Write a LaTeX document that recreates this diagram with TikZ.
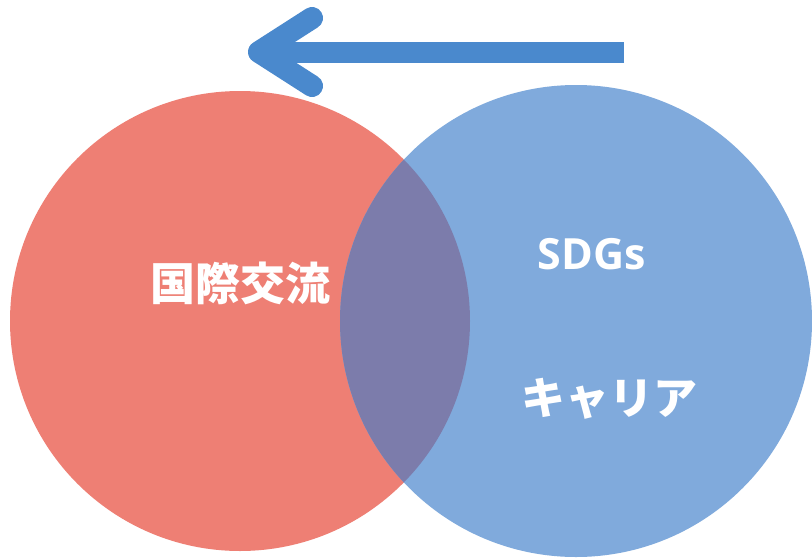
\documentclass[tikz,border=0pt]{standalone}
\usepackage{fontspec}
\newfontfamily\cjk{Noto Sans CJK JP}
\newfontfamily\lat{Open Sans}
\definecolor{redc}{HTML}{EE7F74}
\definecolor{bluec}{HTML}{80AADC}
\definecolor{overc}{HTML}{7C7CAB}
\definecolor{arrowc}{HTML}{4A89CD}
\tikzset{
  lbl/.style={text=white, inner sep=0pt, font=\cjk\bfseries\fontsize{45}{45}\selectfont},
  arrowline/.style={draw=arrowc, line width=21pt}
}
\begin{document}
\begin{tikzpicture}[x=1pt,y=-1pt]
\useasboundingbox (0,0) rectangle (812,560);
\fill[white] (0,0) rectangle (812,560);
% circles
\fill[redc] (240,321) circle (230);
\fill[bluec] (576,321) circle (236);
\begin{scope}
  \clip (240,321) circle (230);
  \fill[overc] (576,321) circle (236);
\end{scope}
% arrow
\coordinate (s) at (624,52);
\coordinate (t) at (262,52);
\coordinate (tip) at (259,52);
\coordinate (a1) at (312,18);
\coordinate (a2) at (312,86);
\draw[arrowline, line cap=butt] (s) -- (t);
\draw[arrowline, line width=22pt, line cap=round, line join=round] (a1) -- (tip) -- (a2);
% labels
\node[lbl] (k) at (240,283) {国際交流};
\node[lbl, font=\lat\bfseries\fontsize{43}{43}\selectfont] (sdg) at (592,254) {SDGs};
\node[lbl, font=\cjk\bfseries\fontsize{44}{44}\selectfont] (car) at (609,399) {キャリア};
\end{tikzpicture}
\end{document}
